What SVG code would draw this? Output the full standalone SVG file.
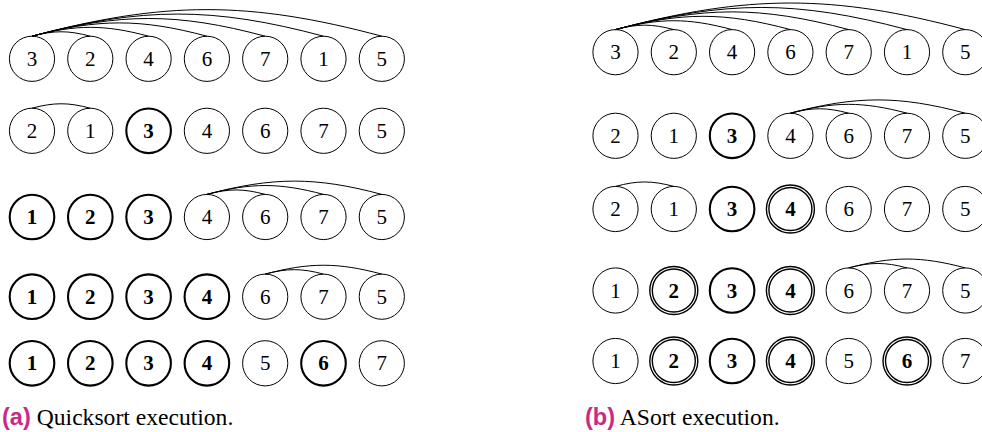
<svg xmlns="http://www.w3.org/2000/svg" width="982" height="432" viewBox="0 0 982 432">
<style>
  .nd circle { fill: none; stroke: #000; stroke-width: 1; }
  .nd text { font-family: "Liberation Serif", "Times New Roman", serif; font-size: 21px; text-anchor: middle; fill: #000; }
  .b circle { stroke-width: 2.1; }
  .b text, .d text { font-weight: bold; }
  .d circle { stroke-width: 1.4; }
  #edges path { fill: none; stroke: #000; stroke-width: 1; }
  .cap { font-family: "Liberation Serif", "Times New Roman", serif; font-size: 23.6px; fill: #000; }
  .lab { font-family: "Liberation Sans", Arial, sans-serif; font-weight: bold; fill: #c92a85; }
</style>
<rect width="982" height="432" fill="#fff"/>
<g id="edges">
  <!-- left row 1 -->
  <path d="M32,36.2 C54.04,30.29 68.26,30.29 90.3,36.2"/>
  <path d="M32,36.2 C76.07,24.39 104.53,24.39 148.6,36.2"/>
  <path d="M32,36.2 C98.11,18.48 140.79,18.48 206.9,36.2"/>
  <path d="M32,36.2 C120.15,12.58 177.05,12.58 265.2,36.2"/>
  <path d="M32,36.2 C142.19,6.67 213.31,6.67 323.5,36.2"/>
  <path d="M32,36.2 C164.22,0.77 249.58,0.77 381.8,36.2"/>
  <!-- left row 2 -->
  <path d="M32,108.2 C54.04,102.29 68.26,102.29 90.3,108.2"/>
  <!-- left row 3 -->
  <path d="M206.9,194.4 C228.94,188.49 243.16,188.49 265.2,194.4"/>
  <path d="M206.9,194.4 C250.97,182.59 279.43,182.59 323.5,194.4"/>
  <path d="M206.9,194.4 C273.01,176.68 315.69,176.68 381.8,194.4"/>
  <!-- left row 4 -->
  <path d="M265.2,274.1 C287.24,268.19 301.46,268.19 323.5,274.1"/>
  <path d="M265.2,274.1 C309.27,262.29 337.73,262.29 381.8,274.1"/>
  <!-- right row 1 -->
  <path d="M615.5,29.6 C637.54,23.69 651.76,23.69 673.8,29.6"/>
  <path d="M615.5,29.6 C659.57,17.79 688.03,17.79 732.1,29.6"/>
  <path d="M615.5,29.6 C681.61,11.88 724.29,11.88 790.4,29.6"/>
  <path d="M615.5,29.6 C703.65,5.98 760.55,5.98 848.7,29.6"/>
  <path d="M615.5,29.6 C725.69,0.07 796.81,0.07 907,29.6"/>
  <path d="M615.5,29.6 C747.72,-5.83 833.08,-5.83 965.3,29.6"/>
  <!-- right row 2 -->
  <path d="M790.4,113.2 C812.44,107.29 826.66,107.29 848.7,113.2"/>
  <path d="M790.4,113.2 C834.47,101.39 862.93,101.39 907,113.2"/>
  <path d="M790.4,113.2 C856.51,95.48 899.19,95.48 965.3,113.2"/>
  <!-- right row 3 -->
  <path d="M615.5,186.4 C637.54,180.49 651.76,180.49 673.8,186.4"/>
  <!-- right row 4 -->
  <path d="M848.7,267.9 C870.74,261.99 884.96,261.99 907,267.9"/>
  <path d="M848.7,267.9 C892.77,256.09 921.23,256.09 965.3,267.9"/>
</g>

<!-- Left panel: Quicksort -->
<g id="a1_1" class="nd" transform="translate(32,58.8)"><circle r="22.6"/><text y="7">3</text></g>
<g id="a1_2" class="nd" transform="translate(90.3,58.8)"><circle r="22.6"/><text y="7">2</text></g>
<g id="a1_3" class="nd" transform="translate(148.6,58.8)"><circle r="22.6"/><text y="7">4</text></g>
<g id="a1_4" class="nd" transform="translate(206.9,58.8)"><circle r="22.6"/><text y="7">6</text></g>
<g id="a1_5" class="nd" transform="translate(265.2,58.8)"><circle r="22.6"/><text y="7">7</text></g>
<g id="a1_6" class="nd" transform="translate(323.5,58.8)"><circle r="22.6"/><text y="7">1</text></g>
<g id="a1_7" class="nd" transform="translate(381.8,58.8)"><circle r="22.6"/><text y="7">5</text></g>

<g id="a2_1" class="nd" transform="translate(32,130.8)"><circle r="22.6"/><text y="7">2</text></g>
<g id="a2_2" class="nd" transform="translate(90.3,130.8)"><circle r="22.6"/><text y="7">1</text></g>
<g id="a2_3" class="nd b" transform="translate(148.6,130.8)"><circle r="22.3"/><text y="7">3</text></g>
<g id="a2_4" class="nd" transform="translate(206.9,130.8)"><circle r="22.6"/><text y="7">4</text></g>
<g id="a2_5" class="nd" transform="translate(265.2,130.8)"><circle r="22.6"/><text y="7">6</text></g>
<g id="a2_6" class="nd" transform="translate(323.5,130.8)"><circle r="22.6"/><text y="7">7</text></g>
<g id="a2_7" class="nd" transform="translate(381.8,130.8)"><circle r="22.6"/><text y="7">5</text></g>

<g id="a3_1" class="nd b" transform="translate(32,217)"><circle r="22.3"/><text y="7">1</text></g>
<g id="a3_2" class="nd b" transform="translate(90.3,217)"><circle r="22.3"/><text y="7">2</text></g>
<g id="a3_3" class="nd b" transform="translate(148.6,217)"><circle r="22.3"/><text y="7">3</text></g>
<g id="a3_4" class="nd" transform="translate(206.9,217)"><circle r="22.6"/><text y="7">4</text></g>
<g id="a3_5" class="nd" transform="translate(265.2,217)"><circle r="22.6"/><text y="7">6</text></g>
<g id="a3_6" class="nd" transform="translate(323.5,217)"><circle r="22.6"/><text y="7">7</text></g>
<g id="a3_7" class="nd" transform="translate(381.8,217)"><circle r="22.6"/><text y="7">5</text></g>

<g id="a4_1" class="nd b" transform="translate(32,296.7)"><circle r="22.3"/><text y="7">1</text></g>
<g id="a4_2" class="nd b" transform="translate(90.3,296.7)"><circle r="22.3"/><text y="7">2</text></g>
<g id="a4_3" class="nd b" transform="translate(148.6,296.7)"><circle r="22.3"/><text y="7">3</text></g>
<g id="a4_4" class="nd b" transform="translate(206.9,296.7)"><circle r="22.3"/><text y="7">4</text></g>
<g id="a4_5" class="nd" transform="translate(265.2,296.7)"><circle r="22.6"/><text y="7">6</text></g>
<g id="a4_6" class="nd" transform="translate(323.5,296.7)"><circle r="22.6"/><text y="7">7</text></g>
<g id="a4_7" class="nd" transform="translate(381.8,296.7)"><circle r="22.6"/><text y="7">5</text></g>

<g id="a5_1" class="nd b" transform="translate(32,363.3)"><circle r="22.3"/><text y="7">1</text></g>
<g id="a5_2" class="nd b" transform="translate(90.3,363.3)"><circle r="22.3"/><text y="7">2</text></g>
<g id="a5_3" class="nd b" transform="translate(148.6,363.3)"><circle r="22.3"/><text y="7">3</text></g>
<g id="a5_4" class="nd b" transform="translate(206.9,363.3)"><circle r="22.3"/><text y="7">4</text></g>
<g id="a5_5" class="nd" transform="translate(265.2,363.3)"><circle r="22.6"/><text y="7">5</text></g>
<g id="a5_6" class="nd b" transform="translate(323.5,363.3)"><circle r="22.3"/><text y="7">6</text></g>
<g id="a5_7" class="nd" transform="translate(381.8,363.3)"><circle r="22.6"/><text y="7">7</text></g>

<!-- Right panel: ASort -->
<g id="b1_1" class="nd" transform="translate(615.5,52.2)"><circle r="22.6"/><text y="7">3</text></g>
<g id="b1_2" class="nd" transform="translate(673.8,52.2)"><circle r="22.6"/><text y="7">2</text></g>
<g id="b1_3" class="nd" transform="translate(732.1,52.2)"><circle r="22.6"/><text y="7">4</text></g>
<g id="b1_4" class="nd" transform="translate(790.4,52.2)"><circle r="22.6"/><text y="7">6</text></g>
<g id="b1_5" class="nd" transform="translate(848.7,52.2)"><circle r="22.6"/><text y="7">7</text></g>
<g id="b1_6" class="nd" transform="translate(907,52.2)"><circle r="22.6"/><text y="7">1</text></g>
<g id="b1_7" class="nd" transform="translate(965.3,52.2)"><circle r="22.6"/><text y="7">5</text></g>

<g id="b2_1" class="nd" transform="translate(615.5,135.8)"><circle r="22.6"/><text y="7">2</text></g>
<g id="b2_2" class="nd" transform="translate(673.8,135.8)"><circle r="22.6"/><text y="7">1</text></g>
<g id="b2_3" class="nd b" transform="translate(732.1,135.8)"><circle r="22.3"/><text y="7">3</text></g>
<g id="b2_4" class="nd" transform="translate(790.4,135.8)"><circle r="22.6"/><text y="7">4</text></g>
<g id="b2_5" class="nd" transform="translate(848.7,135.8)"><circle r="22.6"/><text y="7">6</text></g>
<g id="b2_6" class="nd" transform="translate(907,135.8)"><circle r="22.6"/><text y="7">7</text></g>
<g id="b2_7" class="nd" transform="translate(965.3,135.8)"><circle r="22.6"/><text y="7">5</text></g>

<g id="b3_1" class="nd" transform="translate(615.5,209)"><circle r="22.6"/><text y="7">2</text></g>
<g id="b3_2" class="nd" transform="translate(673.8,209)"><circle r="22.6"/><text y="7">1</text></g>
<g id="b3_3" class="nd b" transform="translate(732.1,209)"><circle r="22.3"/><text y="7">3</text></g>
<g id="b3_4" class="nd d" transform="translate(790.4,209)"><circle r="24"/><circle r="21.5"/><text y="7">4</text></g>
<g id="b3_5" class="nd" transform="translate(848.7,209)"><circle r="22.6"/><text y="7">6</text></g>
<g id="b3_6" class="nd" transform="translate(907,209)"><circle r="22.6"/><text y="7">7</text></g>
<g id="b3_7" class="nd" transform="translate(965.3,209)"><circle r="22.6"/><text y="7">5</text></g>

<g id="b4_1" class="nd" transform="translate(615.5,290.5)"><circle r="22.6"/><text y="7">1</text></g>
<g id="b4_2" class="nd d" transform="translate(673.8,290.5)"><circle r="24"/><circle r="21.5"/><text y="7">2</text></g>
<g id="b4_3" class="nd b" transform="translate(732.1,290.5)"><circle r="22.3"/><text y="7">3</text></g>
<g id="b4_4" class="nd d" transform="translate(790.4,290.5)"><circle r="24"/><circle r="21.5"/><text y="7">4</text></g>
<g id="b4_5" class="nd" transform="translate(848.7,290.5)"><circle r="22.6"/><text y="7">6</text></g>
<g id="b4_6" class="nd" transform="translate(907,290.5)"><circle r="22.6"/><text y="7">7</text></g>
<g id="b4_7" class="nd" transform="translate(965.3,290.5)"><circle r="22.6"/><text y="7">5</text></g>

<g id="b5_1" class="nd" transform="translate(615.5,361)"><circle r="22.6"/><text y="7">1</text></g>
<g id="b5_2" class="nd d" transform="translate(673.8,361)"><circle r="24"/><circle r="21.5"/><text y="7">2</text></g>
<g id="b5_3" class="nd b" transform="translate(732.1,361)"><circle r="22.3"/><text y="7">3</text></g>
<g id="b5_4" class="nd d" transform="translate(790.4,361)"><circle r="24"/><circle r="21.5"/><text y="7">4</text></g>
<g id="b5_5" class="nd" transform="translate(848.7,361)"><circle r="22.6"/><text y="7">5</text></g>
<g id="b5_6" class="nd d" transform="translate(907,361)"><circle r="24"/><circle r="21.5"/><text y="7">6</text></g>
<g id="b5_7" class="nd" transform="translate(965.3,361)"><circle r="22.6"/><text y="7">7</text></g>

<!-- Captions -->
<text class="cap" x="2" y="425"><tspan class="lab">(a)</tspan> Quicksort execution.</text>
<text class="cap" x="585" y="425"><tspan class="lab">(b)</tspan> ASort execution.</text>
</svg>
